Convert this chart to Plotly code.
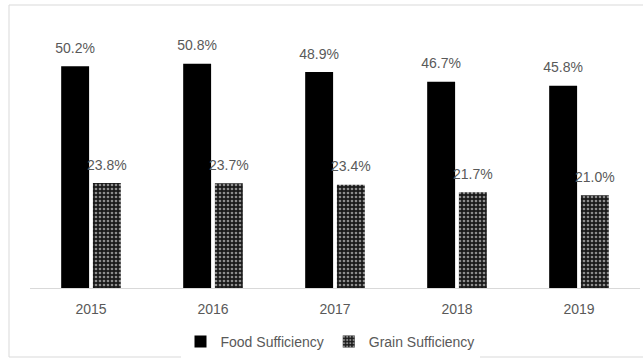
import plotly.graph_objects as go

years = ["2015", "2016", "2017", "2018", "2019"]
food = [50.2, 50.8, 48.9, 46.7, 45.8]
grain = [23.8, 23.7, 23.4, 21.7, 21.0]

W, H = 643, 359
L, R, T, B = 30, 3, 23, 71
pw = W - L - R
ph = H - T - B

font_fam = "Liberation Sans, Arial, sans-serif"
txt_col = "#595959"
GAP = 0.48

fig = go.Figure()
fig.add_bar(
    x=years, y=food, name="Food Sufficiency",
    marker=dict(color="black", line=dict(width=0)),
)
fig.add_bar(
    x=years, y=grain, name="Grain Sufficiency",
    marker=dict(color="#1a1a1a", line=dict(width=0),
                pattern=dict(shape=".", fgcolor="#ffffff", bgcolor="#1a1a1a",
                             size=4, solidity=0.35)),
)
for vals in (food, grain):
    fig.add_scatter(
        x=years, y=vals, mode="text+markers",
        marker=dict(size=14, opacity=0),
        text=[f"{v:.1f}%" for v in vals], textposition="top center",
        textfont=dict(size=14, color=txt_col, family=font_fam),
        showlegend=False, hoverinfo="skip", cliponaxis=False,
    )

def px_x(x):
    return (x - L) / pw

def px_y(y):
    return (H - B - y) / ph

fig.update_layout(
    width=W, height=H,
    margin=dict(l=L, r=R, t=T, b=B, autoexpand=False),
    paper_bgcolor="white", plot_bgcolor="white",
    barmode="group", bargap=GAP, bargroupgap=0.12,
    scattermode="group", scattergap=GAP,
    font=dict(family=font_fam, color=txt_col, size=14),
    showlegend=True,
    legend=dict(orientation="h", x=px_x(330), xanchor="center",
                y=px_y(342), yanchor="middle",
                font=dict(size=14, color=txt_col, family=font_fam),
                itemwidth=30, traceorder="normal"),
    xaxis=dict(showline=True, linecolor="#d9d9d9", linewidth=1,
               ticks="", tickfont=dict(size=14, color=txt_col),
               ticklabelstandoff=8,
               showgrid=False, zeroline=False),
    yaxis=dict(range=[0, 60], visible=False, showgrid=False, zeroline=False),
    shapes=[dict(type="rect", xref="paper", yref="paper",
                 x0=px_x(9), x1=px_x(646), y0=px_y(357), y1=px_y(5),
                 line=dict(color="#d9d9d9", width=1), fillcolor="rgba(0,0,0,0)",
                 layer="below")],
)

fig.write_html("out.html")
